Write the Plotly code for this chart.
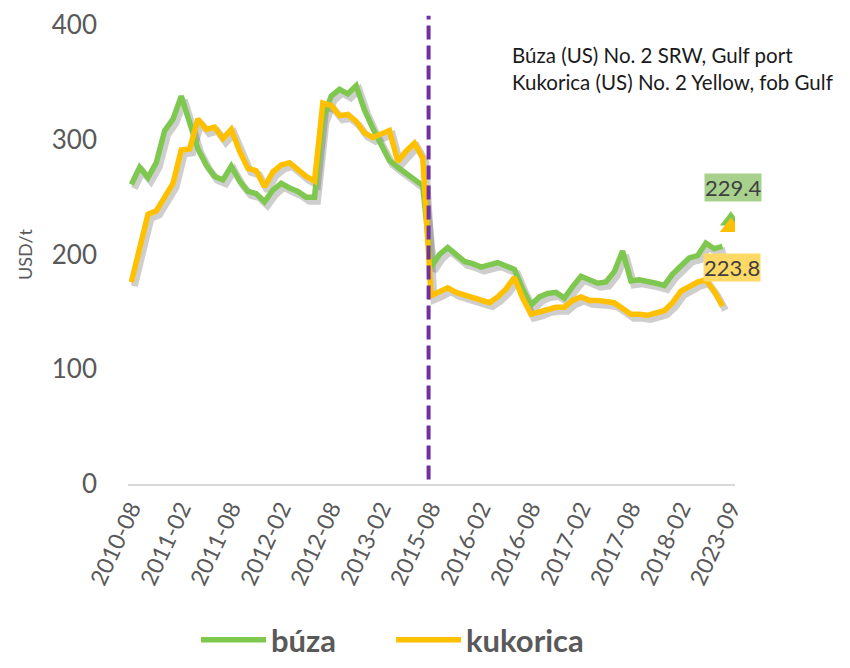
import plotly.graph_objects as go

# ---- data ----
def months(start_y, start_m, count):
    out = []
    y, m = start_y, start_m
    for _ in range(count):
        out.append(f"{y}-{m:02d}")
        m += 1
        if m > 12:
            m = 1
            y += 1
    return out

categories = months(2010, 8, 36) + months(2015, 8, 36) + ["2023-09"]
tick_labels = ["2010-08", "2011-02", "2011-08", "2012-02", "2012-08", "2013-02",
               "2015-08", "2016-02", "2016-08", "2017-02", "2017-08", "2018-02", "2023-09"]

buza = [261, 276, 267, 280, 308, 318, 338, 315, 292, 278, 268, 265,
        277, 264, 255, 253, 246, 256, 262, 258, 255, 250, 250, 318,
        338, 344, 340, 347, 326, 310, 295, 282, 276, 271, 266, 260,
        189, 200, 206, 200, 194, 192, 189, 191, 193, 190, 187, 170,
        156, 163, 166, 167, 162, 172, 181, 178, 175, 176, 185, 203,
        177, 178, 177, 175, 173, 183, 190, 197, 199, 210, 205, 207]

kukorica = [176, 205, 235, 238, 250, 262, 291, 292, 318, 309, 311, 301,
            309, 290, 275, 273, 259, 272, 278, 280, 274, 268, 264, 332,
            330, 321, 322, 316, 306, 302, 305, 308, 281, 290, 297, 284,
            164, 167, 171, 167, 165, 162, 160, 158, 163, 170, 180, 162,
            148, 150, 153, 154, 154, 160, 163, 160, 160, 159, 158, 153,
            148, 148, 147, 149, 151, 158, 168, 172, 176, 178, 168, 155]

last_category = "2023-09"
buza_last = 229.4
kukorica_last = 223.8
divider_category = "2015-08"

GREEN = "#7ec850"
YELLOW = "#ffc000"
GRAY = "#595959"
SHADOW = "rgba(80,80,80,0.28)"
FONT = "Lato"

L, R, T, B = 128, 115, 25, 184
W, H = 850, 668
PW, PH = W - L - R, H - T - B
X_RANGE = [-0.4, 72.5]
Y_RANGE = [0, 400]
# shadow offset (pixels -> axis units)
sx = 3 * (X_RANGE[1] - X_RANGE[0]) / PW
sy = 4 * (Y_RANGE[1] - Y_RANGE[0]) / PH

fig = go.Figure()
# soft drop shadows on hidden, slightly offset base axes
for vals in (buza, kukorica):
    fig.add_trace(go.Scatter(x=categories[:len(vals)], y=vals, mode="lines", showlegend=False,
                             hoverinfo="skip", line=dict(color=SHADOW, width=7), xaxis="x", yaxis="y"))

fig.add_trace(go.Scatter(x=categories[:len(buza)], y=buza, mode="lines", name="búza",
                         line=dict(color=GREEN, width=5.5), xaxis="x2", yaxis="y2"))
fig.add_trace(go.Scatter(x=categories[:len(kukorica)], y=kukorica, mode="lines", name="kukorica",
                         line=dict(color=YELLOW, width=5.5), xaxis="x2", yaxis="y2"))
fig.add_trace(go.Scatter(x=[last_category], y=[buza_last], mode="markers", showlegend=False,
                         marker=dict(symbol="triangle-up", size=19, color=GREEN), xaxis="x2", yaxis="y2"))
fig.add_trace(go.Scatter(x=[last_category], y=[kukorica_last], mode="markers", showlegend=False,
                         marker=dict(symbol="triangle-up", size=19, color=YELLOW), xaxis="x2", yaxis="y2"))

# dashed divider
idx = categories.index(divider_category)
fig.add_shape(type="line", xref="x2", yref="paper", x0=idx - 0.3, x1=idx - 0.3, y0=0.01, y1=1.02,
              line=dict(color="#7030a0", width=4, dash="14px,6px"), layer="above")

fig.add_annotation(x=last_category, y=buza_last, xref="x2", yref="y2", text="229.4", showarrow=False,
                   yshift=33, xshift=2, bgcolor="#a9d18e", font=dict(family=FONT, size=22, color="#404040"),
                   borderpad=0)
fig.add_annotation(x=last_category, y=kukorica_last, xref="x2", yref="y2", text="223.8", showarrow=False,
                   yshift=-40, xshift=1, bgcolor="#ffd966", font=dict(family=FONT, size=22, color="#404040"),
                   borderpad=0)

fig.add_annotation(xref="paper", yref="paper", x=(510 - L) / PW, y=(H - B - 68) / PH,
                   xanchor="left", yanchor="middle", align="left", showarrow=False,
                   text="Búza (US) No. 2 SRW, Gulf port<br>Kukorica (US) No. 2 Yellow, fob Gulf",
                   font=dict(family=FONT, size=20.5, color="#1a1a1a"))

fig.update_layout(
    width=W, height=H,
    margin=dict(l=L, r=R, t=T, b=B, autoexpand=False),
    paper_bgcolor="white", plot_bgcolor="white",
    showlegend=True,
    legend=dict(orientation="h", x=(196 - L) / PW, y=-(640 - (H - B)) / PH, xanchor="left", yanchor="middle",
                font=dict(family=FONT, size=31, color=GRAY, weight="bold"),
                itemwidth=65, entrywidth=115, entrywidthmode="pixels", tracegroupgap=0),
    xaxis=dict(type="category", categoryorder="array", categoryarray=categories,
               range=[X_RANGE[0] - sx, X_RANGE[1] - sx], visible=False, automargin=False),
    yaxis=dict(range=[Y_RANGE[0] + sy, Y_RANGE[1] + sy], visible=False, automargin=False),
    xaxis2=dict(type="category", categoryorder="array", categoryarray=categories, overlaying="x",
                anchor="y2", range=X_RANGE, tickmode="array", tickvals=tick_labels, ticktext=tick_labels,
                tickangle=-65, tickfont=dict(family=FONT, size=23, color=GRAY), automargin=False,
                showgrid=False, showline=True, linecolor="#d9d9d9", linewidth=2, ticks="", zeroline=False),
    yaxis2=dict(range=Y_RANGE, overlaying="y", side="left", anchor="x2",
                tickvals=[0, 100, 200, 300, 400], showgrid=False, zeroline=False,
                showline=False, ticks="", ticklabelstandoff=30, automargin=False,
                tickfont=dict(family=FONT, size=26, color=GRAY),
                title=dict(text="USD/t", font=dict(family=FONT, size=18, color=GRAY), standoff=14)),
)

fig.write_html("out.html", post_script="document.body.style.margin='0';",
               config={"displayModeBar": False})
